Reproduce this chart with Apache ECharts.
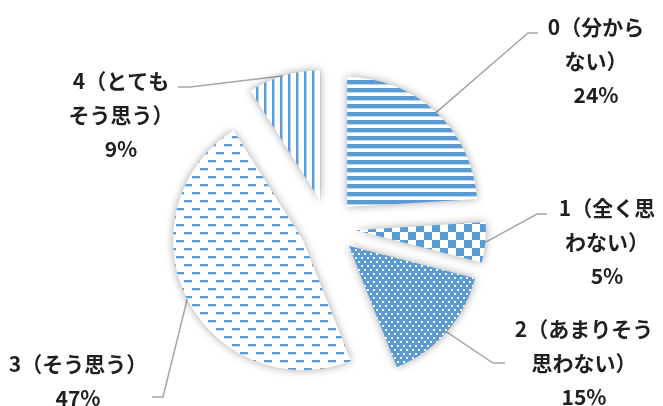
<!DOCTYPE html>
<html><head><meta charset="utf-8">
<script src="https://cdn.jsdelivr.net/npm/echarts@6/dist/echarts.min.js"></script>
<style>html,body{margin:0;padding:0;background:#fff}#c{width:663px;height:406px}</style>
</head><body><div id="c"></div>
<script>
// ---- data ----
const categories = ['0（分から\nない）', '1（全く思\nわない）', '2（あまりそう\n思わない）', '3（そう思う）', '4（とても\nそう思う）'];
const values = [24, 5, 15, 47, 9];

// ---- layout ----
const CX = 328, CY = 227.5, R = 130, EXPLODE = 28;
const labelPos = [[596, 61], [607, 242], [584, 363], [78, 381], [121, 115]];
const lineElbow = [[528, 33], [537, 214], [493, 363], [163, 397], [190, 87]];
const lineEnd = [[538, 33], [547, 214], [505, 363], [152, 397], [178, 87]];

const BLUE = '#5b9bd5';
function makeTile(w, h, draw) {
  const c = document.createElement('canvas');
  c.width = w; c.height = h;
  const g = c.getContext('2d');
  g.fillStyle = '#fff'; g.fillRect(0, 0, w, h);
  g.fillStyle = BLUE; draw(g);
  return { image: c, repeat: 'repeat' };
}
const patterns = [
  makeTile(8, 8, g => { g.fillRect(0, 0, 8, 4); g.globalAlpha = 0.4; g.fillRect(0, 4, 8, 1); }),
  makeTile(16, 16, g => { g.fillRect(0, 0, 8, 8); g.fillRect(8, 8, 8, 8); }),
  makeTile(6, 8, g => { g.fillRect(0, 0, 6, 8); g.fillStyle = '#fff'; g.fillRect(1, 1, 2, 2); g.fillRect(4, 5, 2, 2); }),
  makeTile(16, 16, g => { g.fillRect(0, 0, 8, 2); g.fillRect(8, 8, 8, 2); g.globalAlpha = 0.3; g.fillRect(0, 2, 8, 1); g.fillRect(8, 10, 8, 1); }),
  makeTile(8, 8, g => { g.fillRect(0, 0, 2, 8); g.globalAlpha = 0.45; g.fillRect(2, 0, 1, 8); })
];

const total = values.reduce((a, b) => a + b, 0);
let cum = 0;
const series = values.map((v, i) => {
  const startDeg = cum / total * 360;
  cum += v;
  const midRad = (startDeg + v / total * 180) * Math.PI / 180;
  const cx = CX + EXPLODE * Math.sin(midRad);
  const cy = CY - EXPLODE * Math.cos(midRad);
  return {
    type: 'pie', silent: true, animation: false, clockwise: true,
    startAngle: 90 - startDeg, center: [cx, cy], radius: [0, R],
    avoidLabelOverlap: false, minShowLabelAngle: 0,
    emphasis: { disabled: true },
    data: [
      { name: categories[i], value: v,
        itemStyle: { color: patterns[i], borderWidth: 0, shadowBlur: 8, shadowColor: 'rgba(0,0,0,0.35)' },
        label: { show: true }, labelLine: { show: true } },
      { name: '', value: total - v,
        itemStyle: { color: 'rgba(0,0,0,0)', borderWidth: 0 },
        label: { show: false }, labelLine: { show: false } }
    ],
    label: {
      position: 'outside',
      formatter: p => p.name + '\n' + p.value + '%',
      fontFamily: 'Noto Sans CJK JP', fontWeight: 'bold', fontSize: 21,
      lineHeight: 34, color: '#1f1f1f', align: 'center'
    },
    labelLine: { length: 10, length2: 10, smooth: false, lineStyle: { color: '#a6a6a6', width: 1.5 } },
    labelLayout: function (params) {
      if (params.dataIndex !== 0) return {};
      const pts = params.labelLinePoints;
      const start = (pts && pts[0]) ? pts[0] : [cx + R * Math.sin(midRad), cy - R * Math.cos(midRad)];
      return {
        x: labelPos[i][0], y: labelPos[i][1], align: 'center', verticalAlign: 'middle',
        labelLinePoints: [start, lineElbow[i], lineEnd[i]]
      };
    }
  };
});

const chart = echarts.init(document.getElementById('c'), null, { renderer: 'canvas' });
chart.setOption({ animation: false, backgroundColor: '#fff', series: series });
</script>
</body></html>
